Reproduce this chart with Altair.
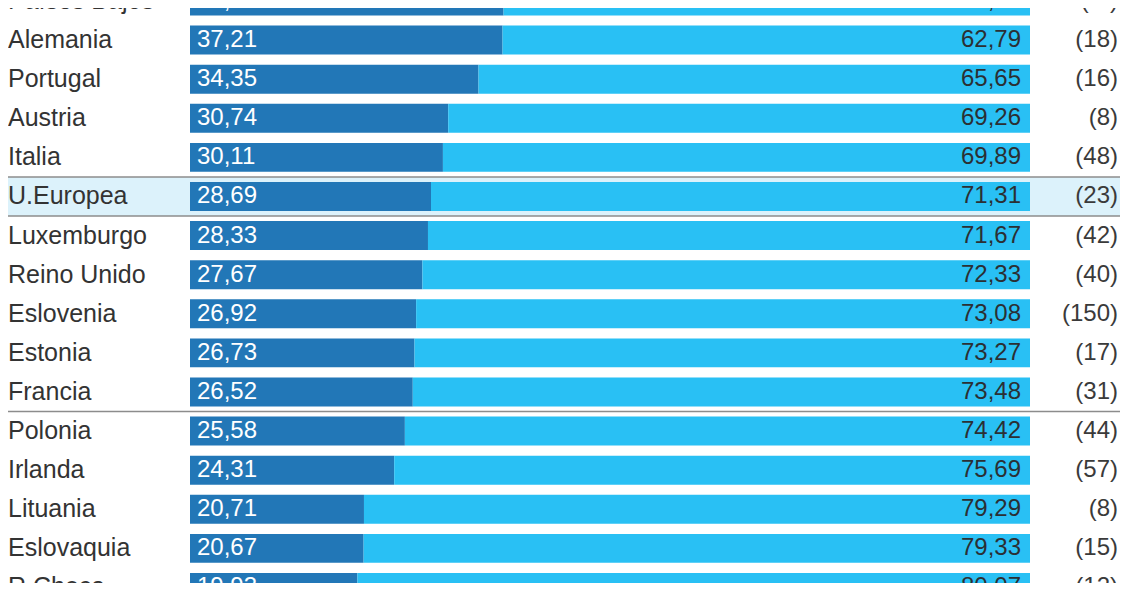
import altair as alt
import pandas as pd

countries = ["Países Bajos", "Alemania", "Portugal", "Austria", "Italia", "U.Europea",
             "Luxemburgo", "Reino Unido", "Eslovenia", "Estonia", "Francia", "Polonia",
             "Irlanda", "Lituania", "Eslovaquia", "R.Checa"]
dark_vals = [37.33, 37.21, 34.35, 30.74, 30.11, 28.69, 28.33, 27.67, 26.92, 26.73,
             26.52, 25.58, 24.31, 20.71, 20.67, 19.93]
light_vals = [62.67, 62.79, 65.65, 69.26, 69.89, 71.31, 71.67, 72.33, 73.08, 73.27,
              73.48, 74.42, 75.69, 79.29, 79.33, 80.07]
counts = ["(-5)", "(18)", "(16)", "(8)", "(48)", "(23)", "(42)", "(40)", "(150)", "(17)",
          "(31)", "(44)", "(57)", "(8)", "(15)", "(12)"]
highlight = ["U.Europea"]
line_after = ["Italia", "U.Europea", "Francia"]

df = pd.DataFrame({
    "pais": countries,
    "dark": dark_vals,
    "light": light_vals,
    "n": counts,
})
df["idx"] = range(len(df))
df["hl"] = df["pais"].isin(highlight)
df["sep"] = df["pais"].isin(line_after)

W, H = 1112, 575
FONT = "Liberation Sans"
DARK = "#2277b7"
LIGHT = "#29c0f4"

xs = alt.Scale(domain=[-21.667, 110.714], nice=False, zero=False)
ys = alt.Scale(domain=[0.18, 14.886], nice=False, zero=False, reverse=True)

base = alt.Chart(df).transform_calculate(
    y0="datum.idx - 0.37",
    y1="datum.idx + 0.37",
    b0="datum.idx - 0.5",
    b1="datum.idx + 0.5",
    zero="0",
    total="datum.dark + datum.light",
    dlab="replace(format(datum.dark, '.2f'), '.', ',')",
    llab="replace(format(datum.light, '.2f'), '.', ',')",
)

bg = base.transform_filter("datum.hl").mark_rect(color="#dcf2fb").encode(
    x=alt.value(0), x2=alt.value(W),
    y=alt.Y("b0:Q", scale=ys, axis=None), y2="b1:Q",
)

dark_bar = base.mark_rect(color=DARK).encode(
    x=alt.X("zero:Q", scale=xs, axis=None), x2="dark:Q",
    y=alt.Y("y0:Q", scale=ys, axis=None), y2="y1:Q",
)

light_bar = base.mark_rect(color=LIGHT).encode(
    x=alt.X("dark:Q", scale=xs, axis=None), x2="total:Q",
    y=alt.Y("y0:Q", scale=ys, axis=None), y2="y1:Q",
)

rules = base.transform_filter("datum.sep").mark_rule(color="#8c8c8c", strokeWidth=1.5).encode(
    x=alt.value(0), x2=alt.value(W),
    y=alt.Y("b1:Q", scale=ys, axis=None),
)

names = base.mark_text(align="left", baseline="middle", font=FONT, fontSize=25,
                       color="#333333").encode(
    x=alt.value(0),
    y=alt.Y("idx:Q", scale=ys, axis=None),
    text="pais:N",
)

dark_txt = base.mark_text(align="left", baseline="middle", font=FONT, fontSize=24,
                          color="white", dx=7).encode(
    x=alt.X("zero:Q", scale=xs, axis=None),
    y=alt.Y("idx:Q", scale=ys, axis=None),
    text="dlab:N",
)

light_txt = base.mark_text(align="right", baseline="middle", font=FONT, fontSize=24,
                           color="#2b2f33", dx=-9).encode(
    x=alt.X("total:Q", scale=xs, axis=None),
    y=alt.Y("idx:Q", scale=ys, axis=None),
    text="llab:N",
)

count_txt = base.mark_text(align="right", baseline="middle", font=FONT, fontSize=24,
                           color="#3a3a3a").encode(
    x=alt.value(1110),
    y=alt.Y("idx:Q", scale=ys, axis=None),
    text="n:N",
)

chart = alt.layer(bg, dark_bar, light_bar, rules, names, dark_txt, light_txt, count_txt).properties(
    width=W, height=H, padding=0,
    autosize=alt.AutoSizeParams(type="none"),
).configure_view(stroke=None)

chart.save("out.html", embed_options={"renderer": "svg", "actions": False})
